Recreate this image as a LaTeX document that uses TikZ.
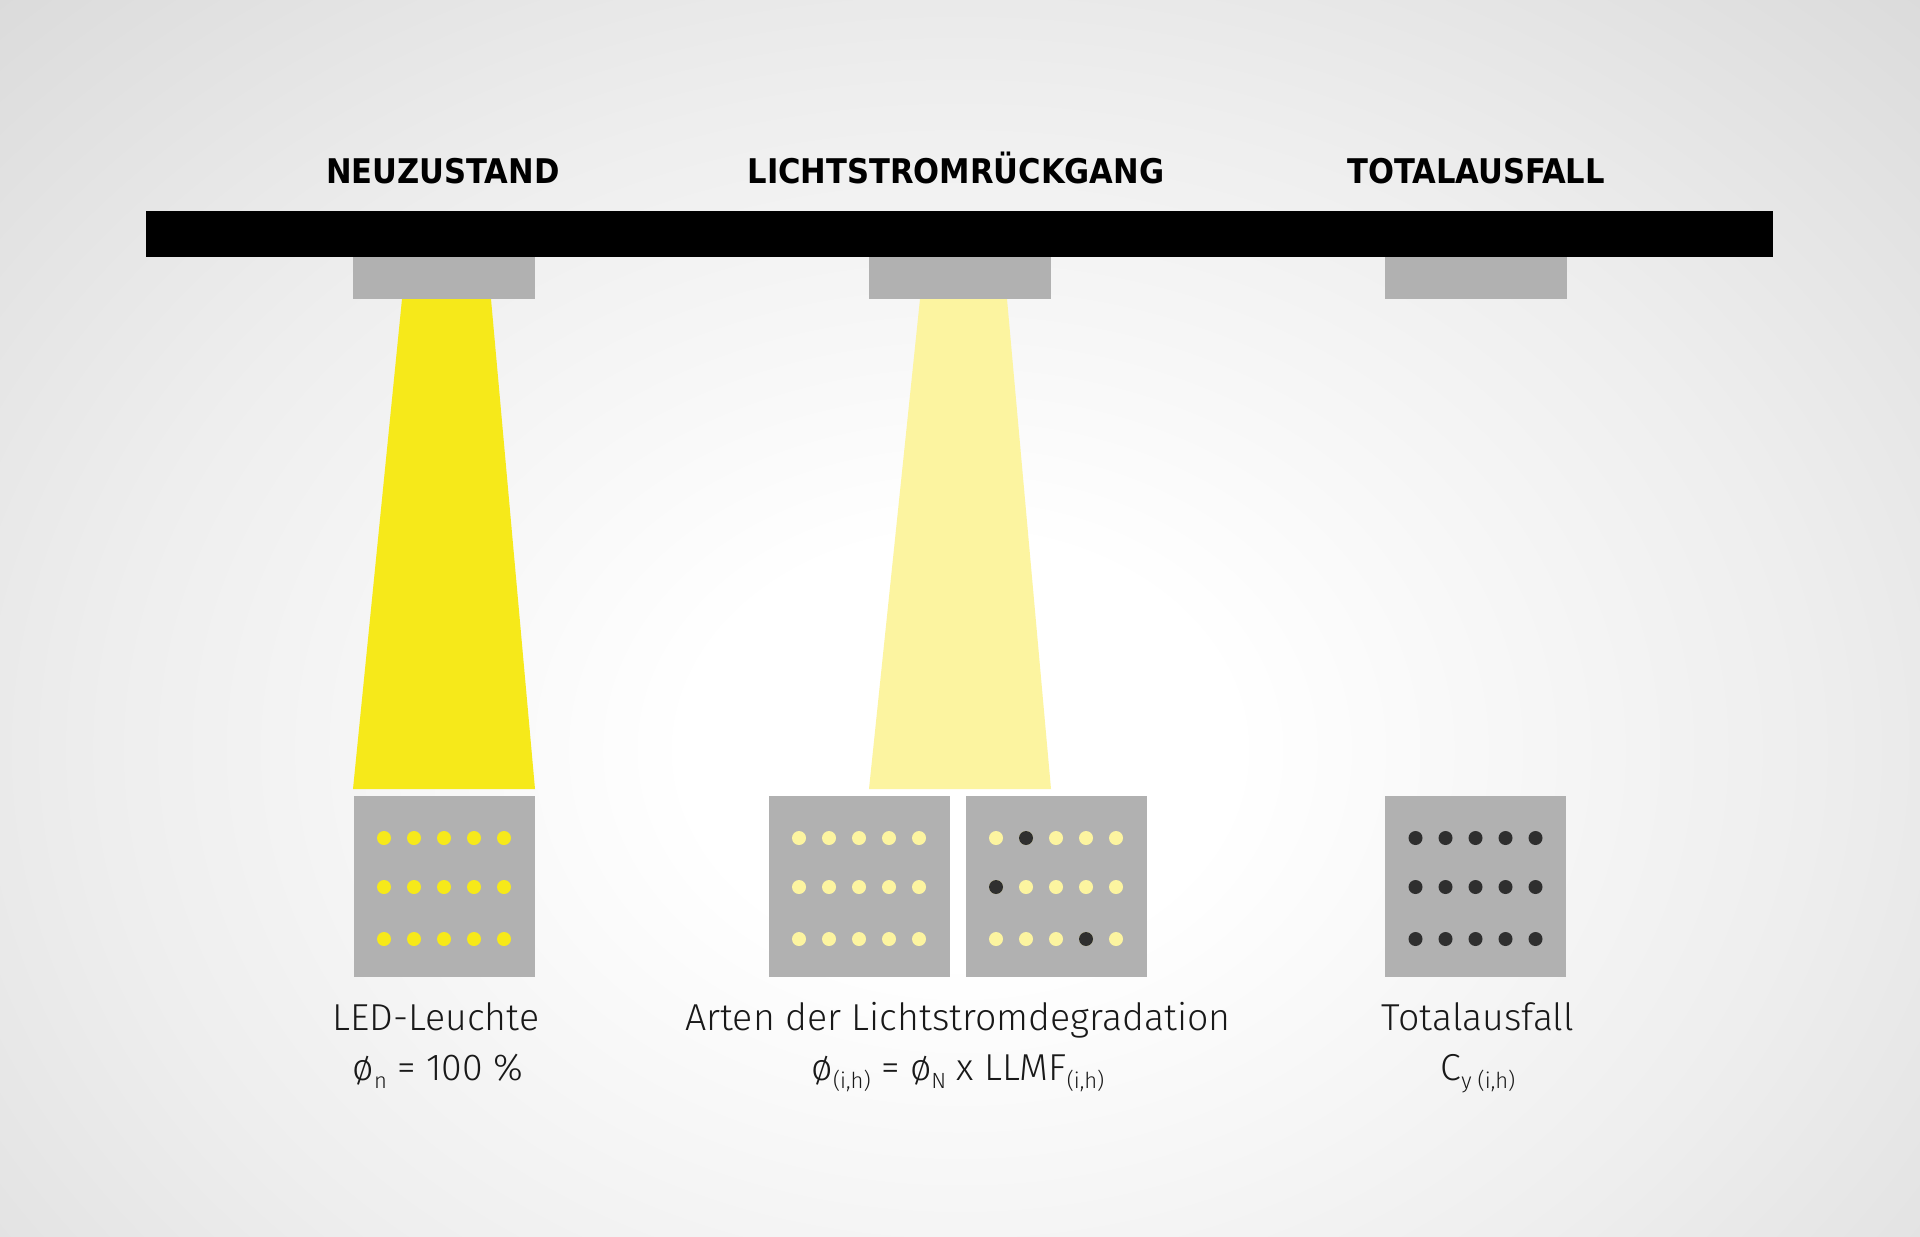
\documentclass[tikz,border=0pt]{standalone}
\usepackage{fontspec}
\usepackage{tikz}
\newfontfamily\titlefont{DejaVu Sans Condensed Bold}
\newfontfamily\labelfont{Fira Sans Light}
\definecolor{beamyellow}{HTML}{F6E91A}
\definecolor{beampale}{HTML}{FCF4A0}
\definecolor{housegrey}{HTML}{B1B1B1}
\definecolor{dotdark}{HTML}{2F2F2F}
\definecolor{bglight}{HTML}{EEEEEE}
\definecolor{bgmid}{HTML}{DADADA}
\definecolor{bggrey}{HTML}{CFCFCF}
\pgfdeclareradialshading{bgshade}{\pgfpoint{0bp}{0bp}}{color(0bp)=(white); color(7bp)=(white); color(22bp)=(bglight); color(36bp)=(bgmid); color(50bp)=(bggrey)}
\newcommand{\lsub}[1]{\raisebox{-8pt}{\fontsize{22}{22}\selectfont #1}}

\begin{document}
\begin{tikzpicture}[x=1pt, y=-1pt,
    housing/.style={fill=housegrey, minimum width=182pt, minimum height=42pt, inner sep=0pt},
    panel/.style={fill=housegrey, minimum width=181pt, minimum height=181pt, inner sep=0pt},
    title/.style={font=\titlefont\fontsize{34}{40}\selectfont, anchor=base},
    caption/.style={font=\labelfont\fontsize{37.5}{44}\selectfont, anchor=base, text=black!90}]
\useasboundingbox (0,0) rectangle (1920,1237);
\shade[shading=bgshade] (-10,0) rectangle (1930,1500);
\node[fill=black, minimum width=1627pt, minimum height=46pt, inner sep=0pt] (bar) at (959.5,234) {};
\node[housing] (house1) at (444,278) {};
\node[housing] (house2) at (960,278) {};
\node[housing] (house3) at (1475.5,278) {};
\node[panel] (led1) at (444.5,886.5) {};
\node[panel] (led2a) at (859,886.5) {};
\node[panel] (led2b) at (1056,886.5) {};
\node[panel] (led3) at (1475.5,886.5) {};
\fill[beamyellow] (402,299) -- (491,299) -- (535,789) -- (353,789) -- cycle;
\fill[beampale] (920,299) -- (1007,299) -- (1051,789) -- (869,789) -- cycle;
\foreach \y in {838,887,939} {
  \foreach \dx in {-60,-30,0,30,60} {
    \fill[beamyellow] (444+\dx,\y) circle (7);
    \fill[beampale] (859+\dx,\y) circle (7);
    \fill[beampale] (1056+\dx,\y) circle (7);
    \fill[dotdark] (1475.5+\dx,\y) circle (7);
  }
}
\foreach \dx/\y in {-30/838,-60/887,30/939}
  \fill[dotdark] (1056+\dx,\y) circle (7);
\node[title] (tnew) at (443,183) {NEUZUSTAND};
\node[title] (tdeg) at (956,183) {LICHTSTROMRÜCKGANG};
\node[title] (tfail) at (1476,183) {TOTALAUSFALL};
\node[caption] (cnew) at (436,1030) {LED-Leuchte};
\node[caption] (fnew) at (438,1080) {ø\lsub{n} = 100 \%};
\node[caption] (cdeg) at (958,1030) {Arten der Lichtstromdegradation};
\node[caption] (fdeg) at (958,1080) {ø\lsub{(i,h)} = ø\lsub{N} x LLMF\lsub{(i,h)}};
\node[caption] (cfail) at (1478,1030) {Totalausfall};
\node[caption] (ffail) at (1478,1080) {C\lsub{y (i,h)}};
\end{tikzpicture}
\end{document}
